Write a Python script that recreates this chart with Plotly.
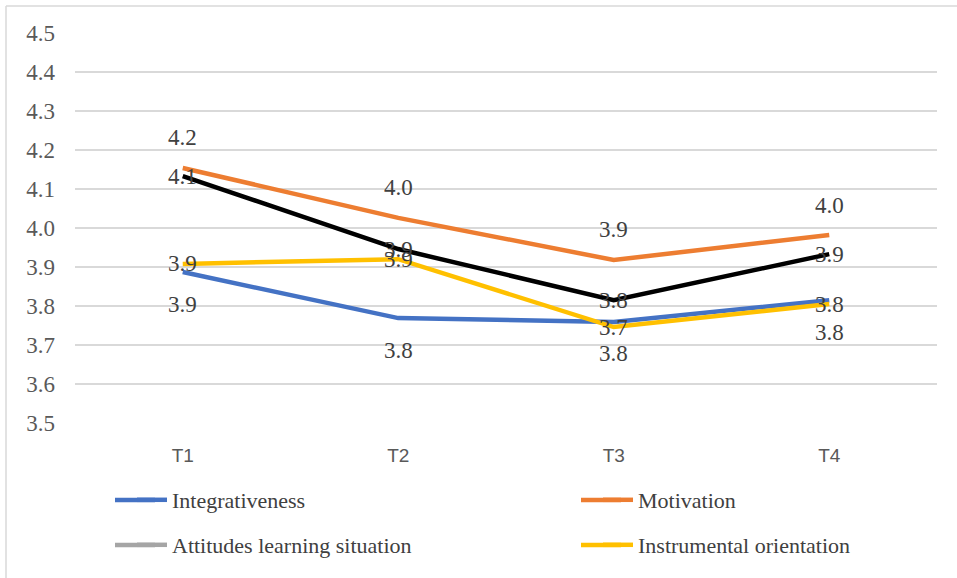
import plotly.graph_objects as go

# Survey periods and mean scores per scale
periods = ["T1", "T2", "T3", "T4"]
integrativeness = [3.887, 3.769, 3.759, 3.815]
motivation = [4.154, 4.026, 3.918, 3.982]
attitudes = [4.133, 3.946, 3.815, 3.933]
instrumental = [3.908, 3.920, 3.746, 3.805]

y_ticks = [3.5, 3.6, 3.7, 3.8, 3.9, 4.0, 4.1, 4.2, 4.3, 4.4, 4.5]

BLUE = "#4472C4"
ORANGE = "#ED7D31"
GRAY = "#A5A5A5"
YELLOW = "#FFC000"
BLACK = "#000000"
LW = 4.5

SERIF = "'Liberation Serif', 'Times New Roman', 'DejaVu Serif', serif"
SANS = "'Liberation Sans', Arial, sans-serif"

# Plot-area geometry in pixels (used for paper-coordinate placement)
L, T, W, H = 75, 33, 862, 390


def px_x(x):
    return (x - L) / W


def px_y(y):
    return 1 - (y - T) / H


fig = go.Figure()

# (name, values, line colour, legend colour, label offset, legend id, legend row/col)
series = [
    ("Integrativeness", integrativeness, BLUE, BLUE, -32, "legend", (500, 0)),
    ("Motivation", motivation, ORANGE, ORANGE, 30, "legend2", (500, 1)),
    ("Attitudes learning situation", attitudes, BLACK, GRAY, 0, "legend3", (545, 0)),
    ("Instrumental orientation", instrumental, YELLOW, YELLOW, 0, "legend4", (545, 1)),
]

for name, vals, col, legcol, _, leg, _pos in series:
    if col == legcol:
        fig.add_trace(go.Scatter(
            x=periods, y=vals, name=name, mode="lines",
            line=dict(color=col, width=LW), legend=leg,
        ))
    else:
        # line drawn in one colour, legend swatch shown in another
        fig.add_trace(go.Scatter(
            x=periods, y=vals, name=name, mode="lines",
            line=dict(color=col, width=LW), showlegend=False,
        ))
        fig.add_trace(go.Scatter(
            x=[None], y=[None], name=name, mode="lines",
            line=dict(color=legcol, width=LW), legend=leg,
        ))

# Data labels (rounded values)
label_font = dict(family=SERIF, size=23, color="#404040")
for name, vals, col, legcol, shift, leg, _pos in series:
    for p, v in zip(periods, vals):
        fig.add_annotation(
            x=p, y=v, text=f"{v:.1f}", showarrow=False,
            yshift=shift, font=label_font,
        )

# Longer legend swatches
col_x = [115, 581]
for name, vals, col, legcol, shift, leg, (row_y, col_i) in series:
    x0 = col_x[col_i]
    fig.add_shape(type="line", xref="paper", yref="paper",
                  x0=px_x(x0), x1=px_x(x0 + 40), y0=px_y(row_y), y1=px_y(row_y),
                  line=dict(color=legcol, width=LW))

# Chart frame (top and left edges)
fig.add_shape(type="line", xref="paper", yref="paper",
              x0=px_x(6), x1=px_x(957), y0=px_y(6), y1=px_y(6),
              line=dict(color="#D9D9D9", width=1.5))
fig.add_shape(type="line", xref="paper", yref="paper",
              x0=px_x(6), x1=px_x(6), y0=px_y(6), y1=px_y(578),
              line=dict(color="#D9D9D9", width=1.5))

legend_common = dict(
    orientation="h", xanchor="left", yanchor="middle",
    font=dict(family=SERIF, size=22, color="#404040"),
    itemwidth=30, bgcolor="rgba(0,0,0,0)",
)

fig.update_layout(
    width=957, height=578,
    font=dict(family=SERIF),
    margin=dict(l=L, r=957 - L - W, t=T, b=578 - T - H, autoexpand=False),
    paper_bgcolor="white", plot_bgcolor="white",
    xaxis=dict(
        type="category", range=[-0.5, 3.5],
        showgrid=False, showline=False, zeroline=False, ticks="",
        tickfont=dict(family=SANS, size=19, color="#595959"),
        ticklabelstandoff=19,
    ),
    yaxis=dict(
        range=[3.5, 4.5], tickvals=y_ticks, tickformat=".1f",
        showgrid=True, gridcolor="#D9D9D9", gridwidth=1.5,
        zeroline=False, showline=False, ticks="",
        tickfont=dict(family=SERIF, size=23, color="#595959"),
        ticklabelstandoff=19,
    ),
    legend=dict(x=px_x(132), y=px_y(500), **legend_common),
    legend2=dict(x=px_x(598), y=px_y(500), **legend_common),
    legend3=dict(x=px_x(132), y=px_y(545), **legend_common),
    legend4=dict(x=px_x(598), y=px_y(545), **legend_common),
    showlegend=True,
)

fig.write_html("out.html")
